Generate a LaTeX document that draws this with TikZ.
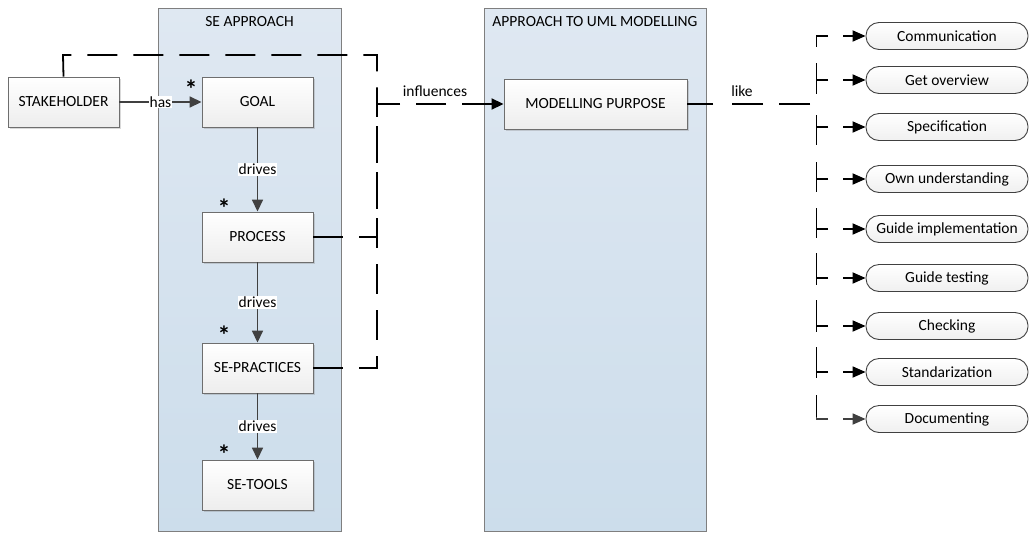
\documentclass[tikz,border=0pt]{standalone}
\usepackage{fontspec}
\setmainfont{Carlito}
\usetikzlibrary{arrows.meta,shadows}
\definecolor{lanefill top}{HTML}{DFE8F2}
\definecolor{lanefill bot}{HTML}{CCDDEB}
\definecolor{laneline}{HTML}{7F7F7F}
\definecolor{boxline}{HTML}{6E6E6E}
\definecolor{linkgray}{HTML}{404040}
\tikzset{
  txt/.style={font=\fontsize{15.5}{18}\selectfont},
  lane/.style={draw=laneline, line width=1pt, top color=lanefill top, bottom color=lanefill bot},
  lanetitle/.style={txt, inner sep=0pt},
  box/.style={txt, draw=boxline, line width=0.9pt, top color=white, bottom color=gray!14,
    minimum width=111pt, minimum height=50pt, inner sep=0pt,
    drop shadow={shadow xshift=2pt, shadow yshift=-2pt, opacity=0.3, fill=gray}},
  pill/.style={txt, draw=linkgray, line width=0.9pt, rounded corners=13pt, top color=white, bottom color=gray!12,
    minimum width=162pt, minimum height=27pt, inner sep=0pt},
  drive/.style={draw=linkgray, line width=1.6pt, -{Triangle[length=12pt,width=11pt]}},
  tag/.style={txt, fill=white, inner sep=1pt},
  freetag/.style={txt, inner sep=0pt},
  mult/.style={inner sep=0pt, font=\bfseries\fontsize{26}{26}\selectfont},
  infl/.style={draw=black, line width=1.8pt, dash pattern=on 30pt off 16pt},
  likeln/.style={draw=black, line width=1.8pt,
    dash pattern=on 0pt off 6.5pt on 31pt off 16pt on 31pt off 19pt on 40pt off 10pt},
  % a branch shows its arrow end and a short tick at the spine
  branch/.style={draw=black, line width=1.8pt, dash pattern=on 10pt off 15pt on 14pt off 3000pt,
    {Triangle[length=13pt,width=11pt]}-},
  spine/.style={draw=black, line width=1.8pt,
    dash pattern=on 11pt off 16pt on 31pt off 21pt on 30pt off 17pt on 30pt off 16pt
      on 30pt off 15pt on 32pt off 15pt on 32pt off 15pt on 31pt off 17pt on 25pt off 100pt},
  rtip/.style={{Triangle[length=12pt,width=11pt]}-},
}
\begin{document}
\begin{tikzpicture}[x=1pt,y=-1pt]
  \useasboundingbox (0,0) rectangle (1030,533);

  % swimlanes
  \path[lane] (158,8) rectangle (341,531);
  \path[lane] (484,8) rectangle (706,531);
  \node[lanetitle] (t1) at (249.5,22) {SE APPROACH};
  \node[lanetitle] (t2) at (595,22) {APPROACH TO UML MODELLING};

  % SE approach chain
  \node[box] (sh) at (63.5,102) {STAKEHOLDER};
  \node[box] (goal) at (257.5,102) {GOAL};
  \node[box] (proc) at (257.5,237) {PROCESS};
  \node[box] (prac) at (257.5,368) {SE-PRACTICES};
  \node[box] (tools) at (257.5,485) {SE-TOOLS};
  \node[box, minimum width=183pt] (mp) at (595.5,104) {MODELLING PURPOSE};

  \draw[drive] (sh) -- node[tag] (lhas) {has} (goal);
  \draw[drive] (goal) -- node[tag] (ld1) {drives} (proc);
  \draw[drive] (proc) -- node[tag] (ld2) {drives} (prac);
  \draw[drive] (prac) -- node[tag] (ld3) {drives} (tools);

  % multiplicities
  \node[mult] (m1) at (191,89) {*};
  \node[mult] (m2) at (224,208) {*};
  \node[mult] (m3) at (224,335) {*};
  \node[mult] (m4) at (224,454) {*};

  % influence links
  \coordinate (jn) at (377,104);
  \draw[infl] (sh.north) -- (63,55) -- (377,55) -- (jn);
  \draw[infl] (proc.east) -- (377,237) -- (jn);
  \draw[infl] (prac.east) -- (377,368) -- (jn);
  \draw[infl, rtip] (mp.west) -- (jn);
  \node[freetag] (linf) at (435,91) {influences};

  % purposes
  \node[pill] (p1) at (947,36) {Communication};
  \node[pill] (p2) at (947,80) {Get overview};
  \node[pill] (p3) at (947,127) {Specification};
  \node[pill] (p4) at (947,179) {Own understanding};
  \node[pill] (p5) at (947,229) {Guide implementation};
  \node[pill] (p6) at (947,278) {Guide testing};
  \node[pill] (p7) at (947,326) {Checking};
  \node[pill] (p8) at (947,372) {Standarization};
  \node[pill] (p9) at (947,419) {Documenting};

  \coordinate (lk) at (816.5,104);
  \coordinate (sptop) at (816.5,36);
  \coordinate (spbot) at (816.5,420);
  \draw[likeln] (lk) -- (mp.east);
  \node[freetag] (llike) at (742,91) {like};
  \draw[spine] (sptop) -- (spbot);
  \foreach \p in {p1,p2,p3,p4,p5,p6,p7,p8}{
    \draw[branch] (\p.west) -| (lk);
  }
  \draw[branch, draw=linkgray] (p9.west) -| (lk);
\end{tikzpicture}
\end{document}
